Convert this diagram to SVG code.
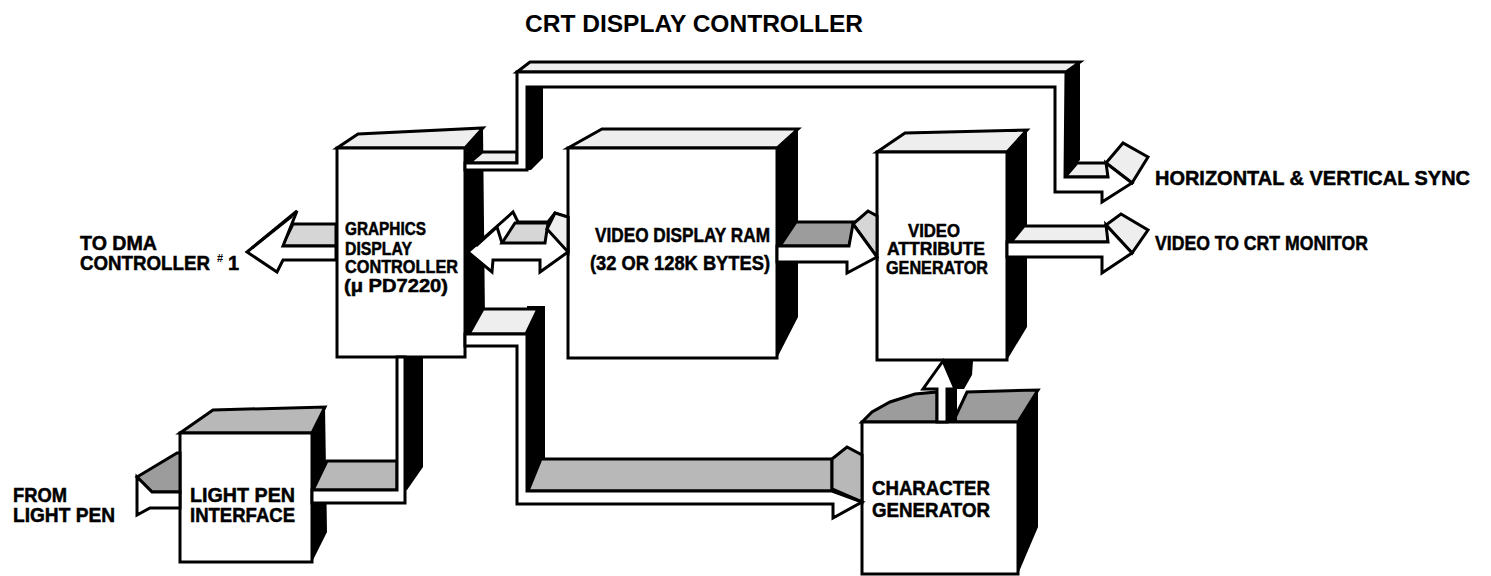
<svg xmlns="http://www.w3.org/2000/svg" width="1491" height="576" viewBox="0 0 1491 576">
<style>
.k{fill:#000}
.o{stroke:#000;stroke-width:3;stroke-linejoin:miter}
.w{fill:#fff}
.l1{fill:#eeeeee}
.l2{fill:#d6d6d6}
.l3{fill:#b8b8b8}
.l4{fill:#9c9c9c}
text{font-family:"Liberation Sans",Arial,sans-serif;font-weight:bold;fill:#000}
.t20{font-size:20px;stroke:#000;stroke-width:0.5}
.t18{font-size:18px;stroke:#000;stroke-width:0.5}
</style>
<rect x="0" y="0" width="1491" height="576" fill="#fff"/>
<text x="525" y="32" font-size="24" textLength="338" lengthAdjust="spacingAndGlyphs">CRT DISPLAY CONTROLLER</text>

<g id="gdc">
<polygon class="k" points="465,148 483,128 485,320 465,340"/>
<polygon class="o l1" points="337,148 358,134 483,128 465,148"/>
<rect class="o w" x="337" y="148" width="128" height="209"/>
<text class="t18" x="345" y="235" textLength="81" lengthAdjust="spacingAndGlyphs">GRAPHICS</text>
<text class="t18" x="345" y="255" textLength="67" lengthAdjust="spacingAndGlyphs">DISPLAY</text>
<text class="t18" x="345" y="273" textLength="113" lengthAdjust="spacingAndGlyphs">CONTROLLER</text>
<text class="t18" x="344" y="292" textLength="104" lengthAdjust="spacingAndGlyphs">(μ PD7220)</text>
</g>

<g id="vdr">
<polygon class="k" points="777,148 798,129 798,317 777,358"/>
<polygon class="o l1" points="568,148 602,129 798,129 777,148"/>
<rect class="o w" x="568" y="148" width="209" height="210"/>
<text class="t20" x="595" y="242" font-size="19" textLength="175" lengthAdjust="spacingAndGlyphs">VIDEO DISPLAY RAM</text>
<text class="t20" x="590" y="270" font-size="19" textLength="180" lengthAdjust="spacingAndGlyphs">(32 OR 128K BYTES)</text>
</g>

<g id="vag">
<polygon class="k" points="1007,152 1027,130 1027,327 1007,360"/>
<polygon class="o l1" points="877,152 905,133 1027,130 1007,152"/>
<rect class="o w" x="877" y="152" width="130" height="208"/>
<text class="t18" x="908" y="237" textLength="52" lengthAdjust="spacingAndGlyphs">VIDEO</text>
<text class="t18" x="887" y="255" textLength="98" lengthAdjust="spacingAndGlyphs">ATTRIBUTE</text>
<text class="t18" x="886" y="274" textLength="102" lengthAdjust="spacingAndGlyphs">GENERATOR</text>
</g>

<g id="chargen">
<polygon class="k" points="1018,422 1038,390 1038,527 1018,574"/>
<polygon class="o l4" points="862,422 872,412 890,402 915,394 937,392 937,422"/>
<polygon class="o l4" points="953,422 967,392 1038,390 1018,422"/>
<rect class="o w" x="862" y="422" width="156" height="152"/>
<text class="t20" x="872" y="495" textLength="118" lengthAdjust="spacingAndGlyphs">CHARACTER</text>
<text class="t20" x="872" y="517" textLength="118" lengthAdjust="spacingAndGlyphs">GENERATOR</text>
</g>

<g id="lightpen">
<polygon class="k" points="312,433 325,407 327,532 312,562"/>
<polygon class="o l3" points="180,433 213,410 325,407 312,433"/>
<rect class="o w" x="180" y="433" width="132" height="129"/>
<text class="t20" x="190" y="502" textLength="105" lengthAdjust="spacingAndGlyphs">LIGHT PEN</text>
<text class="t20" x="190" y="522" textLength="105" lengthAdjust="spacingAndGlyphs">INTERFACE</text>
</g>

<g id="labels">
<text class="t20" x="80" y="250" textLength="77" lengthAdjust="spacingAndGlyphs">TO DMA</text>
<text class="t20" x="80" y="270" textLength="130" lengthAdjust="spacingAndGlyphs">CONTROLLER</text>
<text x="217" y="262" font-size="11">#</text>
<text class="t20" x="228" y="270">1</text>
<text class="t20" x="1155" y="185" textLength="315" lengthAdjust="spacingAndGlyphs">HORIZONTAL &amp; VERTICAL SYNC</text>
<text class="t20" x="1155" y="250" textLength="213" lengthAdjust="spacingAndGlyphs">VIDEO TO CRT MONITOR</text>
<text class="t20" x="13" y="502" textLength="54" lengthAdjust="spacingAndGlyphs">FROM</text>
<text class="t20" x="13" y="522" textLength="102" lengthAdjust="spacingAndGlyphs">LIGHT PEN</text>
</g>

<g id="connectors">
<!-- DMA arrow -->
<polygon class="o l2" points="282,246 293,224 336,224 336,246"/>
<polygon class="o w" points="247,252 297,211 283,246 336,246 336,260 283,260 277,272"/>
<polyline class="o" fill="none" points="252,248 292,216"/>

<!-- GDC <-> VDR -->
<polygon class="o w" points="468,252 513,212 518,222 548,222 555,213 568,217 568,252 540,272 540,260 493,260 492,272"/>
<polygon class="o l2" points="502,243 515,223 548,223 545,243"/>
<polygon class="o l1" points="547,229 555,213 568,217 568,252"/>
<polyline class="o" fill="none" points="476,246 497,227 502,243"/>

<!-- VDR -> VAG -->
<polygon class="o l4" points="780,246 796,222 855,222 849,246"/>
<polygon class="o l2" points="853,224 868,211 877,216 877,257"/>
<polygon class="o w" points="777,246 849,246 853,224 877,257 847,273 847,262 777,262"/>

<!-- VAG -> CRT -->
<polygon class="o l1" points="1011,242 1024,226 1108,226 1108,242"/>
<polygon class="o l1" points="1106,225 1121,214 1148,230 1132,253"/>
<polygon class="o w" points="1007,242 1108,242 1106,225 1132,253 1102,273 1102,257 1007,257"/>

<!-- sync bus -->
<polygon class="o l1" points="517,72 530,62 1080,62 1066,72"/>
<polygon class="k" points="1065,72 1080,62 1080,160 1077,163 1065,177"/>
<polygon class="o l1" points="1065,177 1077,163 1108,163 1108,177"/>
<polygon class="o l1" points="1106,163 1123,143 1148,157 1132,183"/>
<polygon class="o l1" points="469,163 482,152 517,152 517,163"/>
<polygon class="o w" points="465,163 517,163 517,72 1066,72 1065,177 1108,177 1106,163 1132,183 1102,202 1102,192 1055,192 1055,87 527,87 527,170 465,170"/>
<polygon class="k" points="527,87 543,87 543,158 531,170 527,170"/>

<!-- char gen bus -->
<polygon class="k" points="527,306 545,306 545,458 540,462 528,491 527,491"/>
<polygon class="o l1" points="469,334 483,309 538,309 526,334"/>
<polygon class="o l3" points="528,491 541,459 832,459 832,491"/>
<polygon class="o l3" points="832,459 847,447 862,455 862,502 832,489"/>
<polygon class="o w" points="465,334 527,334 527,491 832,491 862,502 833,518 833,504 517,504 517,346 465,346"/>

<!-- light pen bus -->
<polygon class="k" points="405,357 423,357 423,467 407,490 405,490"/>
<polygon class="o l3" points="313,490 327,461 397,461 397,490"/>
<polygon class="o w" points="397,357 405,357 405,503 312,503 312,490 397,490"/>

<!-- light pen input -->
<polygon class="o l4" points="137,477 177,453 180,453 180,492 152,492"/>
<polygon class="o w" points="137,477 152,492 180,492 180,508 150,508 137,515"/>

<!-- char gen -> VAG -->
<polygon class="k" points="943,361 973,361 972,375 964,389 957,389 957,422 947,422 947,389 955,389"/>
<polygon class="o w" points="937,422 937,389 923,389 943,361 955,389 947,389 947,422"/>
</g>
</svg>
